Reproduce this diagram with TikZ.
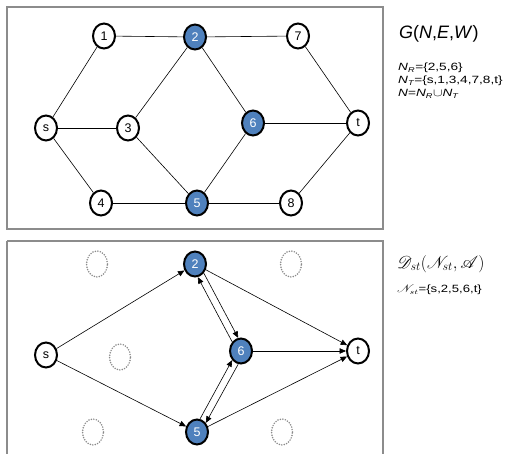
\documentclass[tikz,border=0pt]{standalone}
\usepackage{fontspec}
\usepackage{amsmath}
\usepackage{mathrsfs}
\setmainfont{Liberation Sans}
\usetikzlibrary{shapes.geometric,arrows.meta}
\definecolor{nodeblue}{HTML}{4F81BD}
\definecolor{boxgray}{HTML}{8C8C8C}
\definecolor{dotgray}{HTML}{8A8A8A}
\tikzset{
  vtx/.style={ellipse,draw=black,line width=2pt,fill=white,minimum width=22pt,minimum height=25pt,inner sep=0pt,font=\fontsize{12.5}{12.5}\selectfont},
  rvtx/.style={vtx,fill=nodeblue,text=white},
  ghost/.style={ellipse,draw=dotgray,line width=1.7pt,line cap=round,dash pattern=on 0pt off 2.5pt,minimum width=21pt,minimum height=26pt,inner sep=0pt},
  frame/.style={draw=boxgray,line width=2pt},
  edge/.style={draw=black,line width=0.6pt},
  arc/.style={edge,-{Triangle[length=6.5pt,width=5.5pt]}},
  lbl/.style={anchor=west,inner sep=0pt,align=left},
  small/.style={lbl,font=\fontsize{10.5}{12}\selectfont}
}
\begin{document}
\begin{tikzpicture}[x=1pt,y=-1pt]
\useasboundingbox (0,0) rectangle (508,454);
\fill[white] (0,0) rectangle (508,454);
% frames
\path[frame] (7,7) rectangle (383,229);
\path[frame] (7,241) -- (7,458) (7,241) -- (383,241) -- (383,458);
% top graph
\node[vtx] (a1) at (104,36) {1};
\node[rvtx] (a2) at (195,37) {2};
\node[vtx] (a7) at (298,36) {7};
\node[vtx] (as) at (46,128) {s};
\node[vtx] (a3) at (128,128) {3};
\node[rvtx] (a6) at (253,123) {6};
\node[vtx] (at) at (358,123) {t};
\node[vtx] (a4) at (101,203) {4};
\node[rvtx] (a5) at (197,203) {5};
\node[vtx] (a8) at (291,203) {8};
\path[edge] (a1) -- (a2);
\path[edge] (a2) -- (a7);
\path[edge] (a7) -- (at);
\path[edge] (as) -- (a1);
\path[edge] (as) -- (a3);
\path[edge] (as) -- (a4);
\path[edge] (a3) -- (a2);
\path[edge] (a3) -- (a5);
\path[edge] (a2) -- (a6);
\path[edge] (a6) -- (at);
\path[edge] (a6) -- (a5);
\path[edge] (a4) -- (a5);
\path[edge] (a5) -- (a8);
\path[edge] (a8) -- (at);
% top labels
\node[lbl,font=\fontsize{18}{18}\selectfont] (gt) at (399,34) {\textit{G}(\textit{N},\textit{E},\textit{W})};
\node[small] (nr) at (398,68) {\scalebox{1.3}[1]{\textit{N}$_{\textit{\scriptsize R}}$=\{2,5,6\}}};
\node[small] (nt) at (398,81) {\scalebox{1.3}[1]{\textit{N}$_{\textit{\scriptsize T}}$=\{s,1,3,4,7,8,t\}}};
\node[small] (nn) at (398,94) {\scalebox{1.3}[1]{\textit{N}=\textit{N}$_{\textit{\scriptsize R}}$$\cup$\textit{N}$_{\textit{\scriptsize T}}$}};
% bottom graph
\node[ghost] (g1) at (97,264) {};
\node[ghost] (g2) at (291,264) {};
\node[ghost] (g3) at (120,357) {};
\node[ghost] (g4) at (93,432) {};
\node[ghost] (g5) at (282,432) {};
\node[rvtx] (b2) at (195,264) {2};
\node[vtx] (bs) at (46,355) {s};
\node[rvtx] (b6) at (241,351) {6};
\node[vtx] (bt) at (358,351) {t};
\node[rvtx] (b5) at (197,432) {5};
\path[arc] (bs) -- (b2);
\path[arc] (bs) -- (b5);
\path[arc] (b2) -- (bt);
\path[arc] (b6) -- (bt);
\path[arc] (b5) -- (bt);
\path[arc] (b2.-46) -- (b6.102);
\path[arc] (b6.134) -- (b2.-78);
\path[arc] (b5.77) -- (b6.-134);
\path[arc] (b6.-102) -- (b5.46);
% bottom labels
\node[lbl,font=\fontsize{17}{17}\selectfont] (dt) at (397,264) {$\mathscr{D}_{st}(\mathscr{N}_{st},\mathscr{A})$};
\node[small] (ns) at (397,290) {\scalebox{1.25}[1]{$\mathscr{N}_{st}$=\{s,2,5,6,t\}}};
\end{tikzpicture}
\end{document}
